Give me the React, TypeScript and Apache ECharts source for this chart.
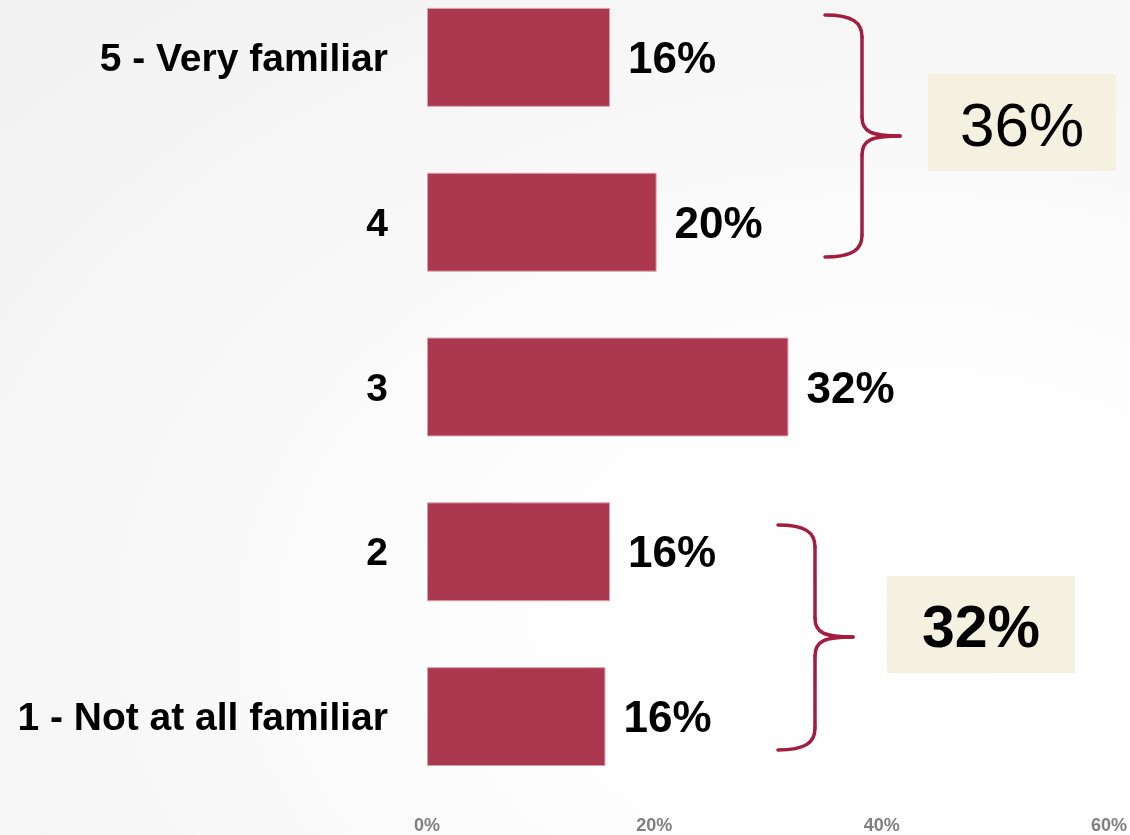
import React, { useEffect, useRef } from "react";
import * as echarts from "echarts";

const categories = ["1 - Not at all familiar", "2", "3", "4", "5 - Very familiar"];
const values = [15.7, 16.1, 31.8, 20.2, 16.1];
const xTicks = [0, 20, 40, 60];
const groupTotals = ["36%", "32%"];

const BAR = "#AB384E";
const BRACE = "#A21D3F";
const BOX = "#F5F1E0";
const OFF = 25; // chart div is shifted up by this many pixels

function brace(x0: number, x1: number, x2: number, yTop: number, yMid: number, yBot: number, r: number, rm: number) {
  yTop += OFF; yMid += OFF; yBot += OFF;
  const style = { stroke: BRACE, lineWidth: 3.5, fill: "none", lineCap: "round" };
  const els: any[] = [];
  els.push({ type: "bezierCurve", shape: { x1: x0, y1: yTop, cpx1: x0 + (x1 - x0) * 0.75, cpy1: yTop, cpx2: x1, cpy2: yTop + r * 0.35, x2: x1, y2: yTop + r }, style });
  els.push({ type: "line", shape: { x1: x1, y1: yTop + r, x2: x1, y2: yMid - rm }, style });
  els.push({ type: "bezierCurve", shape: { x1: x1, y1: yMid - rm, cpx1: x1, cpy1: yMid - rm * 0.2, cpx2: x1 + (x2 - x1) * 0.25, cpy2: yMid, x2: x2, y2: yMid }, style });
  els.push({ type: "bezierCurve", shape: { x1: x2, y1: yMid, cpx1: x1 + (x2 - x1) * 0.25, cpy1: yMid, cpx2: x1, cpy2: yMid + rm * 0.2, x2: x1, y2: yMid + rm }, style });
  els.push({ type: "line", shape: { x1: x1, y1: yMid + rm, x2: x1, y2: yBot - r }, style });
  els.push({ type: "bezierCurve", shape: { x1: x1, y1: yBot - r, cpx1: x1, cpy1: yBot - r * 0.35, cpx2: x0 + (x1 - x0) * 0.75, cpy2: yBot, x2: x0, y2: yBot }, style });
  return els;
}

function box(x: number, y: number, w: number, h: number, label: string, fs: number, weight: string) {
  y += OFF;
  return [
    { type: "rect", shape: { x, y, width: w, height: h }, style: { fill: BOX } },
    {
      type: "text",
      x: x + w / 2,
      y: y + h / 2 + 2,
      style: { text: label, fontSize: fs, fontWeight: weight, fontFamily: "Liberation Sans, Arial, sans-serif", fill: "#000", align: "center", verticalAlign: "middle" },
    },
  ];
}

export default function App() {
  const ref = useRef<HTMLDivElement>(null);
  useEffect(() => {
    const chart = echarts.init(ref.current!, null, { renderer: "svg" });
    chart.setOption({
      animation: false,
      backgroundColor: "transparent",
      grid: { left: 427, right: 20, top: 0, bottom: 36, containLabel: false },
      xAxis: {
        type: "value",
        min: 0,
        max: 60,
        interval: 20,
        axisLine: { show: false },
        axisTick: { show: false },
        splitLine: { show: false },
        axisLabel: {
          formatter: (v: number) => (xTicks.includes(v) ? v + "%" : ""),
          color: "#808080",
          fontSize: 18,
          fontWeight: "bold",
          fontFamily: "Liberation Sans, Arial, sans-serif",
          margin: 17,
        },
      },
      yAxis: {
        type: "category",
        data: categories,
        axisLine: { show: false },
        axisTick: { show: false },
        axisLabel: {
          color: "#000",
          fontSize: 39,
          fontWeight: "bold",
          fontFamily: "Liberation Sans, Arial, sans-serif",
          margin: 39,
        },
      },
      series: [
        {
          type: "bar",
          data: values,
          barCategoryGap: "40%",
          itemStyle: { color: BAR, borderColor: "#D9A0AB", borderWidth: 1 },
          label: {
            show: true,
            position: "right",
            distance: 18,
            formatter: (p: any) => Math.round(p.value) + "%",
            color: "#000",
            fontSize: 44,
            fontWeight: "bold",
            fontFamily: "Liberation Sans, Arial, sans-serif",
          },
        },
      ],
      graphic: [
        ...brace(825, 862, 900, 15, 136, 257, 22, 19),
        ...brace(778, 815, 853, 525, 637, 750, 22, 19),
        ...box(928, 74, 188, 97, groupTotals[0], 62, "normal"),
        ...box(887, 576, 188, 97, groupTotals[1], 59, "bold"),
      ],
    });
    return () => chart.dispose();
  }, []);
  return (
    <div
      style={{
        position: "fixed",
        left: 0,
        top: 0,
        width: 1130,
        height: 835,
        overflow: "hidden",
        background: "radial-gradient(ellipse at 80% 75%, #ffffff 0%, #fdfdfd 35%, #f6f6f6 70%, #f1f1f1 100%)",
      }}
    >
      <div ref={ref} style={{ position: "absolute", left: 0, top: -OFF, width: 1130, height: 860 }} />
    </div>
  );
}
